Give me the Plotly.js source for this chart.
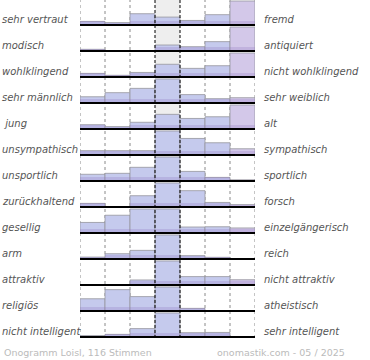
<!DOCTYPE html>
<html>
<head>
<meta charset="utf-8">
<script src="https://cdn.plot.ly/plotly-3.0.1.min.js"></script>
<style>html,body{margin:0;padding:0;background:#fff;}#chart{width:370px;height:360px;}</style>
</head>
<body>
<div id="chart"></div>
<script>
// Column positions of the 7-step scale
const scale = [1, 2, 3, 4, 5, 6, 7];

// Left and right pole labels
const leftLabels = ["sehr vertraut", "modisch", "wohlklingend", "sehr männlich", " jung", "unsympathisch",
  "unsportlich", "zurückhaltend", "gesellig", "arm", "attraktiv", "religiös", "nicht intelligent"];
const rightLabels = ["fremd", "antiquiert", "nicht wohlklingend", "sehr weiblich", "alt", "sympathisch",
  "sportlich", "forsch", "einzelgängerisch", "reich", "nicht attraktiv", "atheistisch", "sehr intelligent"];

// Relative vote shares per row (row maximum = 100)
const vertraut     = [15, 10, 47, 33, 19, 43, 100];
const modisch      = [7, 0, 0, 25, 18, 39, 100];
const wohlklingend = [15, 7, 19, 53, 36, 47, 100];
const maennlich    = [26, 43, 61, 100, 35, 18, 22];
const jung         = [18, 10, 28, 61, 44, 51, 100];
const unsympath    = [18, 18, 18, 100, 69, 51, 26];
const unsportlich  = [28, 32, 57, 100, 40, 15, 5];
const zurueck      = [15, 0, 47, 100, 68, 19, 10];
const gesellig     = [44, 74, 100, 100, 25, 26, 21];
const arm          = [8, 22, 36, 100, 14, 7, 0];
const attraktiv    = [0, 0, 21, 100, 35, 35, 22];
const religioes    = [51, 89, 60, 100, 11, 0, 0];
const intelligent  = [6, 11, 35, 100, 18, 19, 0];

const rows = [vertraut, modisch, wohlklingend, maennlich, jung, unsympath, unsportlich,
  zurueck, gesellig, arm, attraktiv, religioes, intelligent];

const ROW = 26, BARMAX = 24, N = rows.length;
const traces = [];
const shapes = [];
const annotations = [];

// Center neutral band
shapes.push({type: 'rect', xref: 'x', yref: 'y', x0: 3.5, x1: 4.5, y0: -1, y1: 337,
  fillcolor: '#eeeeee', line: {width: 0}, layer: 'below'});
// Dotted grid lines
[0.5, 1.5, 2.5, 5.5, 6.5, 7.5].forEach(x => shapes.push({type: 'line', xref: 'x', yref: 'y',
  x0: x, x1: x, y0: -1, y1: 337, line: {color: '#8a8a8a', width: 1, dash: 'dot'}, layer: 'below'}));

rows.forEach((vals, r) => {
  const base = (N - 1 - r) * ROW;
  traces.push({
    type: 'bar', x: scale, y: vals.map(v => v / 100 * BARMAX), base: scale.map(() => base),
    width: 1, hoverinfo: 'skip',
    marker: {color: scale.map(c => c === 7 ? '#d3c8e9' : '#c5caed'),
      line: {color: 'rgba(150,150,158,0.8)', width: 1}}
  });
  traces.push({
    type: 'bar', x: scale, y: vals.map(v => Math.min(v / 100 * BARMAX, 4)), base: scale.map(() => base),
    width: 1, hoverinfo: 'skip',
    marker: {color: 'rgba(140,110,190,0.25)', line: {width: 0}}
  });
  shapes.push({type: 'line', xref: 'x', yref: 'y', x0: 0.5, x1: 7.58, y0: base, y1: base,
    line: {color: '#000', width: 2}, layer: 'above'});
  annotations.push({xref: 'paper', yref: 'y', x: -80 / 175, y: base + 5.5, xanchor: 'left', yanchor: 'middle',
    text: '<i>' + leftLabels[r] + '</i>', showarrow: false,
    font: {family: 'DejaVu Sans', size: 10, color: '#555'}});
  annotations.push({xref: 'paper', yref: 'y', x: (262 - 80) / 175, y: base + 5.5, xanchor: 'left', yanchor: 'middle',
    text: '<i>' + rightLabels[r] + '</i>', showarrow: false,
    font: {family: 'DejaVu Sans', size: 10, color: '#555'}});
});

// Dashed center lines
[3.5, 4.5].forEach(x => shapes.push({type: 'line', xref: 'x', yref: 'y',
  x0: x, x1: x, y0: -1, y1: 337, line: {color: '#000', width: 1, dash: '3px,2px'}, layer: 'above'}));

annotations.push({xref: 'paper', yref: 'paper', x: -78 / 175, y: -12 / 340, xanchor: 'left', yanchor: 'middle',
  text: 'Onogramm Loisl, 116 Stimmen', showarrow: false, font: {family: 'DejaVu Sans', size: 9.5, color: '#bbb'}});
annotations.push({xref: 'paper', yref: 'paper', x: (347 - 80) / 175, y: -12 / 340, xanchor: 'right', yanchor: 'middle',
  text: 'onomastik.com - 05 / 2025', showarrow: false, font: {family: 'DejaVu Sans', size: 9.5, color: '#bbb'}});

const layout = {
  width: 370, height: 360,
  margin: {l: 80, r: 115, t: 0, b: 20, pad: 0},
  paper_bgcolor: '#fff', plot_bgcolor: 'rgba(0,0,0,0)',
  barmode: 'overlay', bargap: 0, showlegend: false,
  xaxis: {range: [0.5, 7.5], visible: false, fixedrange: true},
  yaxis: {range: [-3, 337], visible: false, fixedrange: true},
  shapes: shapes, annotations: annotations
};

Plotly.newPlot('chart', traces, layout, {displayModeBar: false, staticPlot: true});
</script>
</body>
</html>
